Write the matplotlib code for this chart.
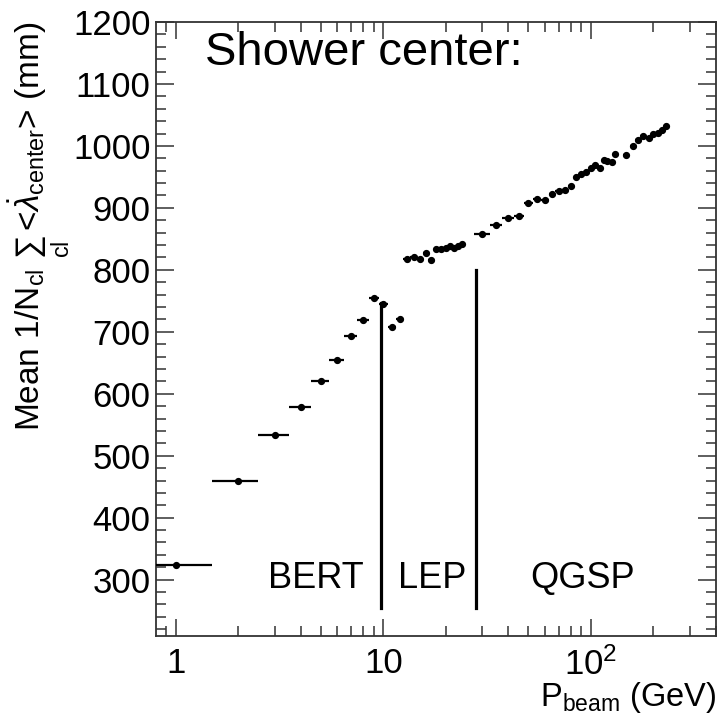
import numpy as np
import matplotlib
matplotlib.use("Agg")
import matplotlib.pyplot as plt
from matplotlib.ticker import MultipleLocator, LogLocator, FixedLocator, FixedFormatter, NullFormatter

plt.rcParams['font.family'] = ['Liberation Sans', 'DejaVu Sans']
plt.rcParams['mathtext.fontset'] = 'custom'
plt.rcParams['mathtext.rm'] = 'Liberation Sans'
plt.rcParams['mathtext.it'] = 'Liberation Sans:italic'
plt.rcParams['mathtext.bf'] = 'Liberation Sans:bold'

# beam momentum (GeV)
p_bert = [1, 2, 3, 4, 5, 6, 7, 8, 9, 10, 11, 12]
lam_bert = [324, 460, 534, 578, 620, 655, 694, 719, 755, 745, 708, 720]

p_lep = [13, 14, 15, 16, 17, 18, 19, 20, 21, 22, 23, 24]
lam_lep = [818, 821, 818, 827, 816, 833, 834, 835, 838, 835, 838, 841]

p_qgsp = [30, 35, 40, 45, 50, 55, 60, 65, 70, 75, 80, 85, 90, 95, 100,
          105, 110, 115, 120, 127, 131, 148, 159, 168, 178, 190, 200, 210, 221, 229]
lam_qgsp = [858, 872, 884, 887, 908, 915, 913, 923, 927, 929, 936, 950, 954, 958, 965,
            970, 964, 978, 975, 974, 987, 986, 1000, 1009, 1016, 1012, 1019, 1021, 1026, 1032]

# half bin widths
err_bert = [0.5] * len(p_bert)
err_lep = [0.5] * len(p_lep)
err_qgsp = [2.5] * 21 + [5] * 9

# physics list boundaries
cut_x = [9.7, 28]
cut_top = [747, 800]
cut_bottom = 255

regions = ['BERT', 'LEP', 'QGSP']
region_x = [4.72, 17.2, 91.5]

p = p_bert + p_lep + p_qgsp
lam = lam_bert + lam_lep + lam_qgsp
perr = err_bert + err_lep + err_qgsp

fig = plt.figure(figsize=(7.2, 7.19), dpi=100)
ax = fig.add_axes([0.2167, 0.1154, 0.7777, 0.854])

ax.errorbar(p, lam, xerr=perr, fmt='o', color='black', ms=4.2,
            elinewidth=1.6, capsize=0, zorder=3)

for cx, ct in zip(cut_x, cut_top):
    ax.plot([cx, cx], [cut_bottom, ct], color='black', lw=2.3)

for name, rx in zip(regions, region_x):
    ax.text(rx, 302, name, fontsize=26, ha='center', va='center')

ax.text(0.0875, 0.93, 'Shower center:', transform=ax.transAxes,
        fontsize=34, ha='left', va='baseline')

ax.set_xscale('log')
ax.set_xlim(0.805, 400)
ax.set_ylim(209, 1200)

ax.xaxis.set_major_locator(FixedLocator([1, 10, 100]))
ax.xaxis.set_major_formatter(FixedFormatter(['1', '10', r'$10^{2}$']))
ax.xaxis.set_minor_locator(LogLocator(base=10, subs=np.arange(2, 10) / 10.0, numticks=20))
ax.xaxis.set_minor_formatter(NullFormatter())
ax.yaxis.set_major_locator(MultipleLocator(100))
ax.yaxis.set_minor_locator(MultipleLocator(20))

ax.tick_params(which='both', direction='in', top=True, right=True, width=1.1, color='#333333')
ax.tick_params(axis='y', which='major', length=13, labelsize=25, pad=4)
ax.tick_params(axis='y', which='minor', length=7.5)
ax.tick_params(axis='x', which='major', length=12, labelsize=25, pad=8)
ax.tick_params(axis='x', which='minor', length=7)
for s in ax.spines.values():
    s.set_linewidth(1.3)
    s.set_color('#333333')

ax.set_ylabel(r'Mean 1/N$_{\rm cl}$ $\sum_{\rm cl}$ <$\dot{\lambda}_{\rm center}$> (mm)',
              fontsize=24, loc='top', labelpad=1)
ax.set_xlabel(r'P$_{\rm beam}$ (GeV)', fontsize=23.5, loc='right', labelpad=-1)

fig.savefig('out.png', dpi=100)
